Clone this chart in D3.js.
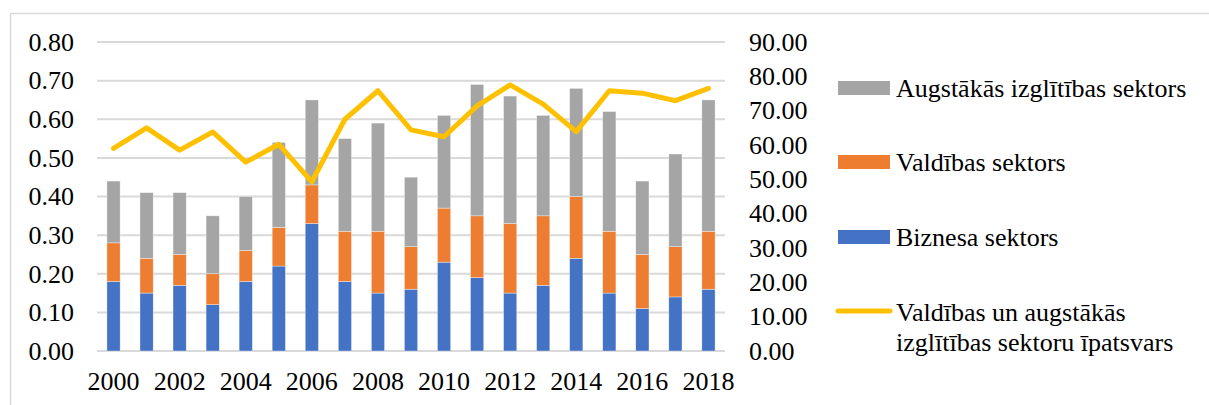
<!DOCTYPE html>
<html>
<head>
<meta charset="utf-8">
<script src="https://cdn.jsdelivr.net/npm/d3@7"></script>
<style>
  html, body { margin: 0; padding: 0; background: #fff; }
  svg { display: block; }
  text { font-family: "Liberation Serif", "Times New Roman", Times, Tinos, "DejaVu Serif", serif !important; fill: #000; }
</style>
</head>
<body>
<svg id="chart" width="1209" height="405"></svg>
<script>
const years = ["2000","2001","2002","2003","2004","2005","2006","2007","2008","2009","2010","2011","2012","2013","2014","2015","2016","2017","2018"];
const biznesa   = [0.18,0.15,0.17,0.12,0.18,0.22,0.33,0.18,0.15,0.16,0.23,0.19,0.15,0.17,0.24,0.15,0.11,0.14,0.16];
const valdibas  = [0.10,0.09,0.08,0.08,0.08,0.10,0.10,0.13,0.16,0.11,0.14,0.16,0.18,0.18,0.16,0.16,0.14,0.13,0.15];
const augstakas = [0.16,0.17,0.16,0.15,0.14,0.22,0.22,0.24,0.28,0.18,0.24,0.34,0.33,0.26,0.28,0.31,0.19,0.24,0.34];
const ipatsvars = [59.0,65.0,58.5,63.8,55.0,60.2,49.3,67.5,75.8,64.4,62.4,71.4,77.5,71.9,63.9,75.8,75.1,72.9,76.5];
const leftTicks  = [0,0.1,0.2,0.3,0.4,0.5,0.6,0.7,0.8];
const rightTicks = [0,10,20,30,40,50,60,70,80,90];
const xTickLabels = ["2000","2002","2004","2006","2008","2010","2012","2014","2016","2018"];
const seriesNames = ["Biznesa sektors","Valdības sektors","Augstākās izglītības sektors"];
const lineName = ["Valdības un augstākās","izglītības sektoru īpatsvars"];
const colors = ["#4472C4","#ED7D31","#A5A5A5"];
const lineColor = "#FFC000";

const svg = d3.select("#chart");
const plot = {left: 97, right: 725, top: 42, bottom: 351};
const fs = 26;
const FF = '"Liberation Serif", "Times New Roman", Times, Tinos, "DejaVu Serif", serif';

// outer border
svg.append("path").attr("d", "M10.5,405 V13.5 H1209")
  .attr("fill","none").attr("stroke","#d9d9d9").attr("stroke-width",1.5);

const x = d3.scaleBand().domain(years).range([plot.left, plot.right]).paddingInner(0.6).paddingOuter(0.3);
const yL = d3.scaleLinear().domain([0,0.8]).range([plot.bottom, plot.top]);
const yR = d3.scaleLinear().domain([0,90]).range([plot.bottom, plot.top]);

// gridlines
svg.append("g").selectAll("line").data(leftTicks).join("line")
  .attr("x1", plot.left).attr("x2", plot.right)
  .attr("y1", d => yL(d)).attr("y2", d => yL(d))
  .attr("stroke","#d9d9d9").attr("stroke-width",2);

function styleAxis(g) {
  g.attr("font-family", FF).attr("font-size", fs);
  g.select(".domain").remove();
  g.selectAll("text").attr("fill","#000");
}

// left axis
const gL = svg.append("g").attr("transform", `translate(${plot.left},0)`)
  .call(d3.axisLeft(yL).tickValues(leftTicks).tickFormat(d3.format(".2f")).tickSize(0).tickPadding(23));
styleAxis(gL);

// right axis
const gR = svg.append("g").attr("transform", `translate(${plot.right},0)`)
  .call(d3.axisRight(yR).tickValues(rightTicks).tickFormat(d3.format(".2f")).tickSize(0).tickPadding(24));
styleAxis(gR);

// x axis
const gX = svg.append("g").attr("transform", `translate(0,${plot.bottom})`)
  .call(d3.axisBottom(x).tickValues(xTickLabels).tickSize(0).tickPadding(21));
styleAxis(gX);

// stacked bars
const rows = years.map((y,i) => ({year:y, b:biznesa[i], v:valdibas[i], a:augstakas[i]}));
const stack = d3.stack().keys(["b","v","a"])(rows);
svg.append("g").selectAll("g").data(stack).join("g")
  .attr("fill", (d,i) => colors[i])
  .selectAll("rect").data(d => d).join("rect")
  .attr("x", d => x(d.data.year))
  .attr("width", x.bandwidth())
  .attr("y", d => yL(d[1]))
  .attr("height", d => yL(d[0]) - yL(d[1]))
  .attr("stroke","#ffffff").attr("stroke-width",0.6).attr("stroke-opacity",0.6);

// line
const line = d3.line().x((d,i) => x(years[i]) + x.bandwidth()/2).y(d => yR(d));
svg.append("path").datum(ipatsvars).attr("d", line)
  .attr("fill","none").attr("stroke",lineColor).attr("stroke-width",5)
  .attr("stroke-linejoin","round").attr("stroke-linecap","round");

// legend
const lg = svg.append("g").attr("font-family", FF).attr("font-size", fs);
const legendItems = [
  {name:seriesNames[2], color:colors[2], cy:88},
  {name:seriesNames[1], color:colors[1], cy:162},
  {name:seriesNames[0], color:colors[0], cy:237}
];
legendItems.forEach(it => {
  lg.append("rect").attr("x",838).attr("y",it.cy-7).attr("width",52).attr("height",14).attr("fill",it.color);
  lg.append("text").attr("x",896).attr("y",it.cy).attr("dy","0.35em").text(it.name);
});
lg.append("line").attr("x1",838).attr("x2",890).attr("y1",311).attr("y2",311)
  .attr("stroke",lineColor).attr("stroke-width",5).attr("stroke-linecap","round");
lineName.forEach((t,i) => {
  lg.append("text").attr("x",896).attr("y",312 + i*30).attr("dy","0.35em").text(t);
});
</script>
</body>
</html>
